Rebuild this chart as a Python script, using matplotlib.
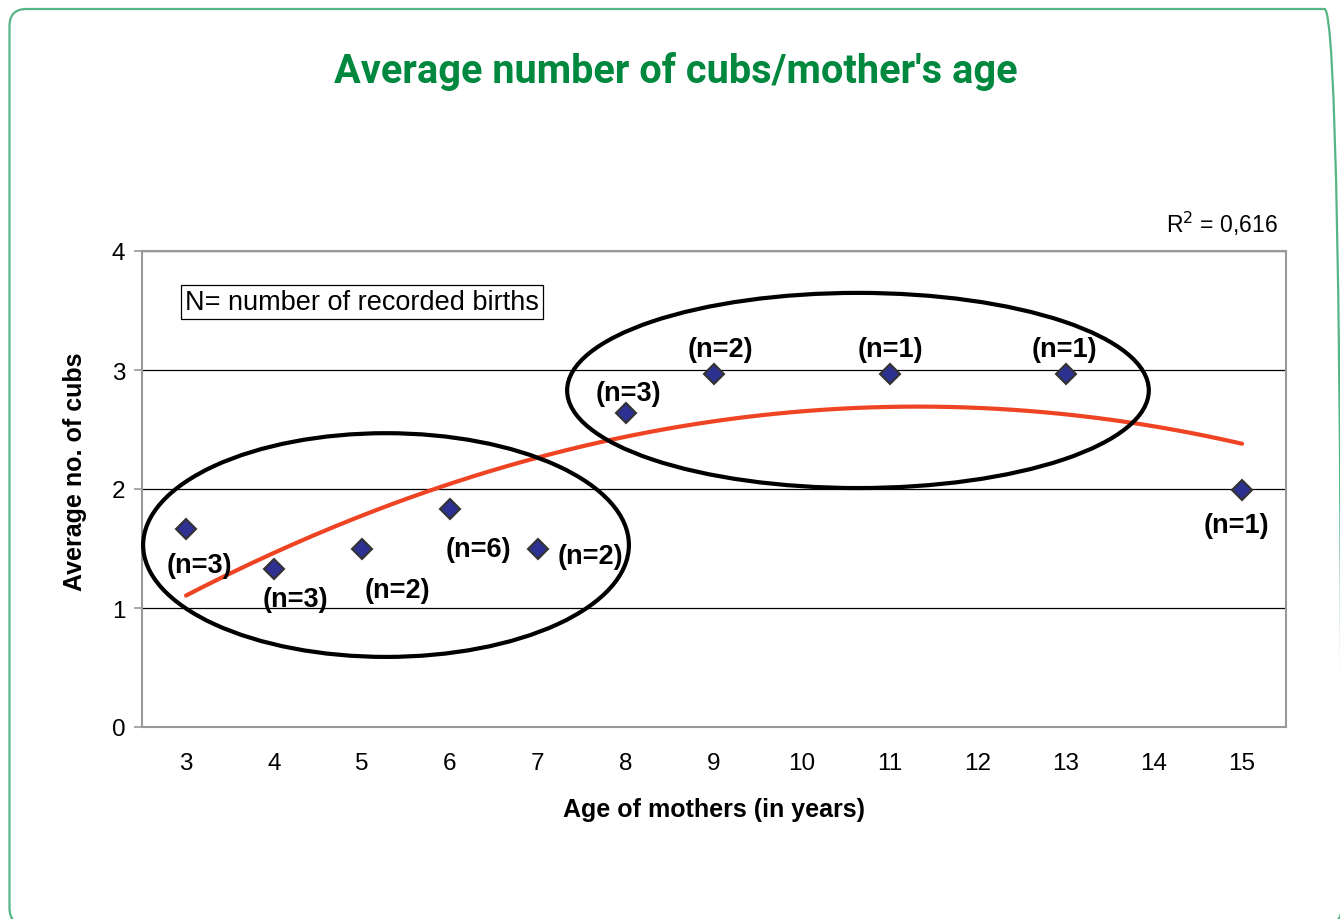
import numpy as np
import matplotlib
matplotlib.use("Agg")
import matplotlib.pyplot as plt
from matplotlib.patches import Ellipse, FancyBboxPatch

# data
ages = [3, 4, 5, 6, 7, 8, 9, 11, 13, 15]
avg_cubs = [1.66, 1.33, 1.5, 1.83, 1.5, 2.64, 2.97, 2.97, 2.97, 1.99]
births = [3, 3, 2, 6, 2, 3, 2, 1, 1, 1]
age_ticks = list(range(3, 16))
y_ticks = [0, 1, 2, 3, 4]

# where each (n=..) label sits relative to its point, in pixels
label_offsets = [(13, -36), (21, -30), (35, -42), (28, -40), (52, -7),
                 (2, 20), (6, 25), (0, 25), (-2, 25), (-6, -35)]

plt.rcParams['font.family'] = ['Liberation Sans', 'DejaVu Sans']

fig = plt.figure(figsize=(13.4, 9.2), dpi=100)
W, H = 1340, 920

# rounded green frame around the whole thing (partly cut off right/bottom)
frame = FancyBboxPatch((0.095, -0.06), 13.32, 9.16,
                       boxstyle="round,pad=0,rounding_size=0.17",
                       transform=fig.dpi_scale_trans, fill=False,
                       edgecolor='#55b584', lw=1.6, clip_on=False)
fig.patches.append(frame)

fig.text(676 / W, 1 - 83 / H, "Average number of cubs/mother's age",
         ha='center', va='baseline', fontsize=28.6, fontweight='bold',
         color='#00883f', family=['Roboto', 'DejaVu Sans'])

ax = fig.add_axes([142 / W, (H - 728) / H, (1286 - 142) / W, (728 - 252) / H])

# polynomial (2nd order) trendline
coef = np.polyfit(ages, avg_cubs, 2)
xs = np.linspace(ages[0], ages[-1], 200)
ax.plot(xs, np.polyval(coef, xs), color='#ef4423', lw=3, zorder=3,
        solid_capstyle='round')

ax.plot(ages, avg_cubs, linestyle='none', marker='D', markersize=10.5,
        markerfacecolor='#2e3192', markeredgecolor='#333333',
        markeredgewidth=1.5, zorder=5)

for x, y, n, (dx, dy) in zip(ages, avg_cubs, births, label_offsets):
    ax.annotate(f"(n={n})", (x, y), xytext=(dx * 0.72, dy * 0.72),
                textcoords='offset points', ha='center', va='center',
                fontsize=19.5, fontweight='bold', zorder=6)

# the two hand-drawn groups
ax.add_patch(Ellipse((5.273, 1.529), 5.52, 1.88, fill=False,
                     edgecolor='black', lw=3, zorder=4, clip_on=False))
ax.add_patch(Ellipse((10.636, 2.828), 6.61, 1.64, fill=False,
                     edgecolor='black', lw=3, zorder=4, clip_on=False))

ax.text(0.1923, 0.893, "N= number of recorded births", transform=ax.transAxes,
        ha='center', va='center', fontsize=19.5,
        bbox=dict(boxstyle='square,pad=0.15', facecolor='white',
                  edgecolor='black', lw=0.9))

fig.text(1278 / W, 1 - 224 / H, "R$^2$ = 0,616", ha='right', va='center',
         fontsize=16.5)

ax.set_xlim(2.5, 15.5)
ax.set_ylim(0, 4)
ax.set_xticks(age_ticks)
ax.set_yticks(y_ticks)
ax.tick_params(axis='x', length=0, pad=18, labelsize=17.5)
ax.tick_params(axis='y', length=6, width=1.2, color='#999999', pad=6,
               labelsize=17.5)
ax.grid(axis='y', color='black', lw=0.9)
ax.set_axisbelow(True)
for s in ax.spines.values():
    s.set_color('#999999')
    s.set_linewidth(1.5)

ax.set_xlabel("Age of mothers (in years)", fontsize=18, fontweight='bold',
              va='center')
ax.xaxis.set_label_coords(0.5, -(810 - 728) / 476)
ax.set_ylabel("Average no. of cubs", fontsize=18, fontweight='bold',
              va='center')
ax.yaxis.set_label_coords((75 - 142) / 1144, (728 - 472) / 476)

fig.savefig("out.png", dpi=100)
